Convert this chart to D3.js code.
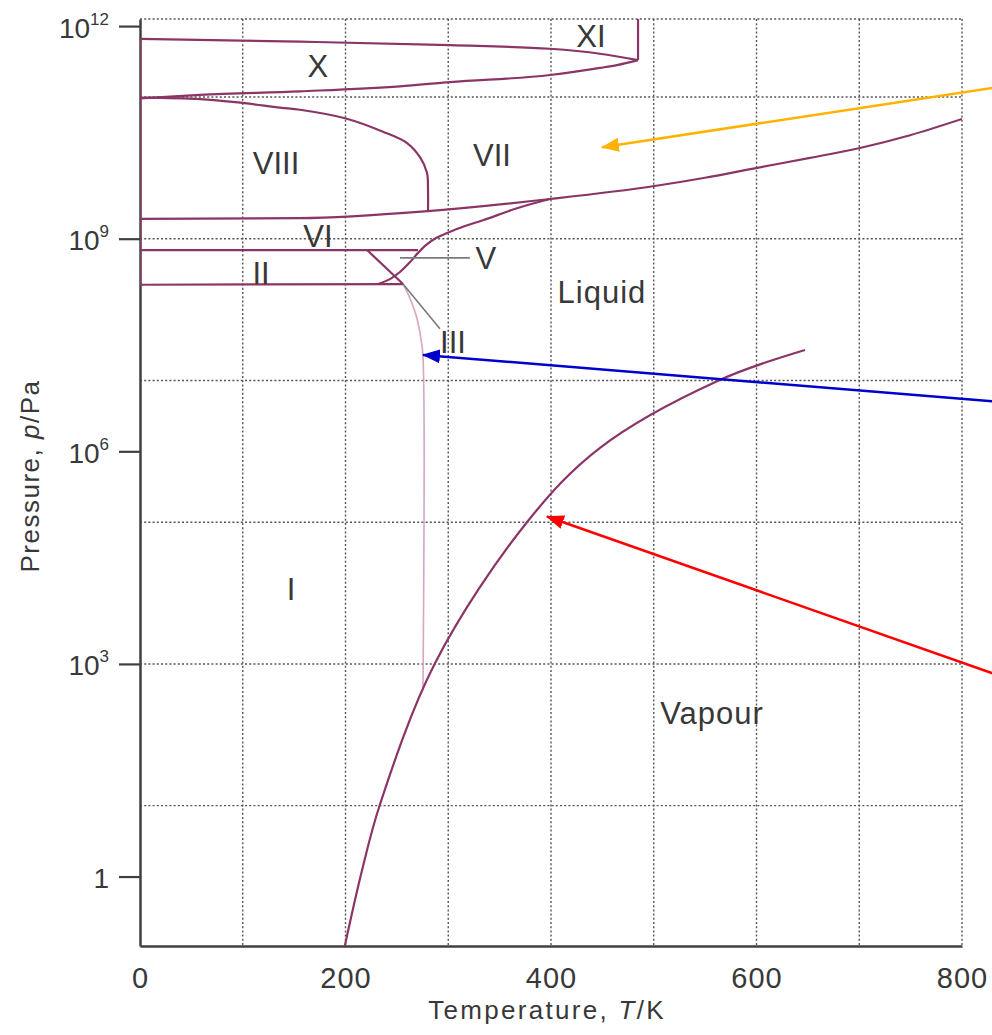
<!DOCTYPE html>
<html>
<head>
<meta charset="utf-8">
<script src="https://cdn.jsdelivr.net/npm/d3@7"></script>
<style>
  body { margin: 0; background: #fff; }
  text { font-family: "Liberation Sans", Arial, sans-serif; fill: #383838; }
</style>
</head>
<body>
<div id="chart"></div>
<script>
// Axis ticks: temperature in K, pressure as log10(p/Pa)
var tempTicks = [0, 200, 400, 600, 800];
var tempGrid = [100, 200, 300, 400, 500, 600, 700, 800];
var presTicks = [12, 9, 6, 3, 0];
var presGrid = [11, 9, 7, 5, 3, 1];

// Phase boundaries, each point is [T/K, log10(p/Pa)]
var vapourLine = [[199, -1.0], [216.1, 0.09], [233.6, 1.02], [287.1, 3.01], [376.6, 5.0],
  [447.7, 6.05], [561.6, 6.99], [647.2, 7.43]];
var iceOneLine = [[256, 8.36], [261.8, 8.19], [266.7, 8.01], [270.6, 7.81], [273.5, 7.58],
  [275.4, 7.34], [275.4, 2.63]];
var xTopLine = [[0, 11.82], [155.7, 11.78], [301.7, 11.73], [399, 11.68], [447.7, 11.61], [484.7, 11.52]];
var xBottomLine = [[0, 10.98], [58.4, 11.03], [155.7, 11.08], [253, 11.15], [301.7, 11.21],
  [399, 11.31], [447.7, 11.41], [464.2, 11.45], [484.7, 11.52]];
var xiLine = [[484.7, 11.52], [484.7, 12.4]];
var eightSevenLine = [[0, 10.99], [58.4, 10.97], [97.3, 10.92], [136.3, 10.85], [155.7, 10.82],
  [199.5, 10.70], [236.5, 10.51], [259.9, 10.35], [272.5, 10.15], [279.3, 9.93], [280.3, 9.69], [280.3, 9.39]];
var sevenLine = [[0, 9.28], [155.7, 9.29], [280.3, 9.39], [399, 9.56], [499.3, 9.74], [549.9, 9.86],
  [600.5, 10.0], [652.1, 10.14], [700.7, 10.28], [749.4, 10.46], [800, 10.69]];
var sixMeltLine = [[231.6, 8.36], [243.3, 8.43], [253, 8.53], [262.8, 8.67], [270.6, 8.80],
  [278.3, 8.91], [288.1, 9.01], [298.8, 9.08], [316.3, 9.18], [333.8, 9.26], [366.9, 9.43], [399, 9.56]];
var sixBottomLine = [[0, 8.84], [270.6, 8.84]];
var twoBottomLine = [[0, 8.35], [256, 8.36]];
var twoFiveLine = [[221, 8.84], [256, 8.36]];
var zeroKLine = [[0, 11.82], [0, 8.35]];

// Region names and where they sit, [T/K, log10(p/Pa)]
var regionNames = ["X", "XI", "VIII", "VII", "VI", "II", "V", "III", "I", "Liquid", "Vapour"];
var regionT = [173.2, 438.9, 132.4, 342.6, 173.2, 117.8, 336.7, 304.6, 147, 449.6, 556.7];
var regionP = [11.43, 11.86, 10.06, 10.18, 9.03, 8.51, 8.72, 7.54, 4.05, 8.25, 2.31];

// Leader lines for V and III
var vLeader = [[253, 8.73], [321, 8.73]];
var threeLeader = [[256, 8.36], [291.9, 7.73]];

// Coloured arrows: start and tip, [T/K, log10(p/Pa)]
var arrowColors = ["#ffb300", "#0000cc", "#ff0000"];
var arrowStart = [[835, 11.14], [835, 6.70], [835, 2.84]];
var arrowTip = [[449.6, 10.29], [275.4, 7.36], [396, 5.08]];

var svgWidth = 992;
var svgHeight = 1035;
var margin = { top: 19, right: 30, bottom: 89, left: 140 };
var width = svgWidth - margin.left - margin.right;
var height = svgHeight - margin.top - margin.bottom;

var svg = d3.select("#chart")
  .append("svg")
  .attr("width", svgWidth)
  .attr("height", svgHeight);

var chartGroup = svg.append("g")
  .attr("transform", `translate(${margin.left}, ${margin.top})`);

// Scales
var xScale = d3.scaleLinear().domain([0, 800]).range([0, width]);
var yScale = d3.scaleLog()
  .domain([Math.pow(10, -0.98), Math.pow(10, 12.1)])
  .range([height, 0]);
var px = d => xScale(d[0]);
var py = d => yScale(Math.pow(10, d[1]));

// Gridlines (dotted)
var gridGroup = chartGroup.append("g")
  .attr("stroke", "#555")
  .attr("stroke-width", 1.4)
  .attr("stroke-dasharray", "2,2.2");

gridGroup.selectAll(".vgrid")
  .data(tempGrid)
  .enter()
  .append("line")
  .attr("x1", d => xScale(d))
  .attr("x2", d => xScale(d))
  .attr("y1", 0)
  .attr("y2", height);

gridGroup.selectAll(".hgrid")
  .data(presGrid)
  .enter()
  .append("line")
  .attr("x1", 0)
  .attr("x2", width)
  .attr("y1", d => yScale(Math.pow(10, d)))
  .attr("y2", d => yScale(Math.pow(10, d)));

gridGroup.append("line")
  .attr("x1", 0).attr("x2", width)
  .attr("y1", 0).attr("y2", 0);

// Axes
var bottomAxis = d3.axisBottom(xScale).tickValues(tempTicks)
  .tickSize(0).tickSizeOuter(0).tickFormat(d3.format("d"));
var gx = chartGroup.append("g")
  .attr("transform", `translate(0, ${height})`)
  .call(bottomAxis);
gx.select(".domain").attr("stroke", "#404040").attr("stroke-width", 2.5);
gx.selectAll(".tick text")
  .attr("y", 42)
  .attr("dy", 0)
  .attr("font-size", 29)
  .attr("letter-spacing", 1)
  .attr("font-family", "Liberation Sans, Arial, sans-serif")
  .attr("fill", "#383838");

var leftAxis = d3.axisLeft(yScale)
  .tickValues(presTicks.map(e => Math.pow(10, e)))
  .tickSize(21)
  .tickSizeOuter(0)
  .tickFormat("");
var gy = chartGroup.append("g").call(leftAxis);
gy.select(".domain").attr("stroke", "#404040").attr("stroke-width", 2.5);
gy.selectAll(".tick line").attr("stroke", "#404040").attr("stroke-width", 2.2);
gy.selectAll(".tick text").remove();
gy.selectAll(".tick").each(function(v) {
  var e = Math.round(Math.log10(v));
  var t = d3.select(this).append("text")
    .attr("x", -31)
    .attr("y", 11)
    .attr("text-anchor", "end")
    .attr("font-size", 28)
    .attr("fill", "#383838");
  if (e === 0) {
    t.text("1");
  } else {
    t.append("tspan").text("10");
    t.append("tspan").attr("dy", -13).attr("font-size", 17).text(e);
  }
});

// Phase boundaries
chartGroup.append("clipPath").attr("id", "plotClip")
  .append("rect").attr("width", width).attr("height", height);

var curveGroup = chartGroup.append("g").attr("clip-path", "url(#plotClip)")
  .attr("fill", "none");

var smooth = d3.line().x(px).y(py).curve(d3.curveCatmullRom.alpha(0.5));
var monotone = d3.line().x(px).y(py).curve(d3.curveMonotoneX);
var straight = d3.line().x(px).y(py);

curveGroup.append("path")
  .attr("d", smooth(iceOneLine))
  .attr("stroke", "#d6a6c2")
  .attr("stroke-width", 1.6);

[sevenLine, xTopLine, xBottomLine].forEach(function(c) {
  curveGroup.append("path")
    .attr("d", monotone(c))
    .attr("stroke", "#8b3566")
    .attr("stroke-width", 2.2);
});
[vapourLine, eightSevenLine, sixMeltLine].forEach(function(c) {
  curveGroup.append("path")
    .attr("d", smooth(c))
    .attr("stroke", "#8b3566")
    .attr("stroke-width", 2.2);
});
[xiLine, sixBottomLine, twoBottomLine, twoFiveLine, zeroKLine].forEach(function(c) {
  curveGroup.append("path")
    .attr("d", straight(c))
    .attr("stroke", "#8b3566")
    .attr("stroke-width", 2.2);
});

// Leader lines
[vLeader, threeLeader].forEach(function(c) {
  chartGroup.append("path")
    .attr("d", straight(c))
    .attr("fill", "none")
    .attr("stroke", "#7a7a7a")
    .attr("stroke-width", 1.6);
});

// Region labels
chartGroup.append("g").selectAll("text")
  .data(regionNames)
  .enter()
  .append("text")
  .attr("x", (d, i) => xScale(regionT[i]))
  .attr("y", (d, i) => yScale(Math.pow(10, regionP[i])))
  .attr("dy", "0.35em")
  .attr("text-anchor", "middle")
  .attr("font-size", 31)
  .attr("letter-spacing", d => d.length > 4 ? 1 : 0)
  .text(d => d);

// Axis titles
var xTitle = svg.append("text")
  .attr("x", 547)
  .attr("y", 1019)
  .attr("text-anchor", "middle")
  .attr("font-size", 26)
  .attr("letter-spacing", 2.3);
xTitle.append("tspan").text("Temperature, ");
xTitle.append("tspan").attr("font-style", "italic").text("T");
xTitle.append("tspan").text("/K");

var yTitle = svg.append("text")
  .attr("transform", "translate(39, 476) rotate(-90)")
  .attr("text-anchor", "middle")
  .attr("font-size", 26)
  .attr("letter-spacing", 1.5);
yTitle.append("tspan").text("Pressure, ");
yTitle.append("tspan").attr("font-style", "italic").text("p");
yTitle.append("tspan").text("/Pa");

// Arrows
var defs = svg.append("defs");
arrowColors.forEach(function(c, i) {
  defs.append("marker")
    .attr("id", "head" + i)
    .attr("markerUnits", "userSpaceOnUse")
    .attr("viewBox", "0 0 18 14")
    .attr("markerWidth", 18)
    .attr("markerHeight", 14)
    .attr("refX", 17)
    .attr("refY", 7)
    .attr("orient", "auto")
    .append("path")
    .attr("d", "M0,0 L18,7 L0,14 z")
    .attr("fill", c);
});

chartGroup.append("g").selectAll("line")
  .data(arrowColors)
  .enter()
  .append("line")
  .attr("x1", (d, i) => px(arrowStart[i]))
  .attr("y1", (d, i) => py(arrowStart[i]))
  .attr("x2", (d, i) => px(arrowTip[i]))
  .attr("y2", (d, i) => py(arrowTip[i]))
  .attr("stroke", d => d)
  .attr("stroke-width", 2.5)
  .attr("marker-end", (d, i) => `url(#head${i})`);
</script>
</body>
</html>
